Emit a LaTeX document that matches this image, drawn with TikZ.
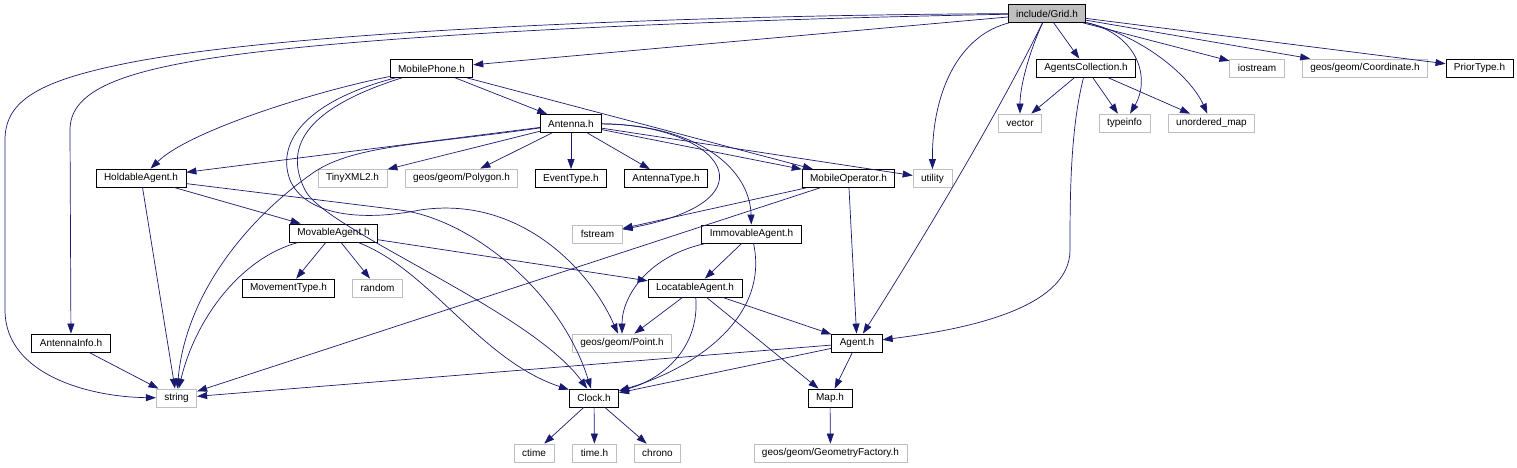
\documentclass[tikz,border=0pt]{standalone}
\usepackage{fontspec}
\setmainfont{Liberation Sans}
\usetikzlibrary{arrows.meta}
\definecolor{edgecol}{HTML}{191970}
\definecolor{sysgray}{HTML}{BFBFBF}
\tikzset{
  hdr/.style={draw=black, fill=white, rectangle, inner xsep=8pt, inner ysep=0pt, minimum height=18pt, line width=0.8pt},
  sys/.style={hdr, draw=sysgray},
  root/.style={hdr, fill=sysgray},
  dep/.style={draw=edgecol, line width=0.7pt, -{Triangle[length=10pt,width=7pt]}}
}
\begin{document}
\begin{tikzpicture}[x=1pt, y=-1pt, font=\fontsize{10}{12}\selectfont]
	\useasboundingbox (0,0) rectangle (1517,467);
	% Headers
	\node[root] (grid) at (1047,13.5) {include/Grid.h};
	\node[hdr] (mphone) at (431.5,68.5) {MobilePhone.h};
	\node[hdr] (acoll) at (1086,68) {AgentsCollection.h};
	\node[sys] (iostream) at (1257,68) {iostream};
	\node[sys] (coord) at (1365,68) {geos/geom/Coordinate.h};
	\node[hdr] (prior) at (1479.5,68) {PriorType.h};
	\node[hdr] (antenna) at (571,123.5) {Antenna.h};
	\node[sys] (vector) at (1020,123) {vector};
	\node[sys] (typeinfo) at (1124.5,123) {typeinfo};
	\node[sys] (umap) at (1211.5,123) {unordered\_map};
	\node[hdr] (holdable) at (141,178) {HoldableAgent.h};
	\node[sys] (tinyxml) at (352.5,178) {TinyXML2.h};
	\node[sys] (polygon) at (461.5,178) {geos/geom/Polygon.h};
	\node[hdr] (eventtype) at (571,178.5) {EventType.h};
	\node[hdr] (antennatype) at (666,178.5) {AntennaType.h};
	\node[hdr] (moperator) at (848.5,178.5) {MobileOperator.h};
	\node[sys] (utility) at (932.5,178.5) {utility};
	\node[hdr] (movable) at (333.5,233) {MovableAgent.h};
	\node[sys] (fstream) at (597.5,234) {fstream};
	\node[hdr] (immovable) at (751.5,234) {ImmovableAgent.h};
	\node[hdr] (movement) at (288.5,288) {MovementType.h};
	\node[sys] (random) at (377.5,288) {random};
	\node[hdr] (locatable) at (695,288) {LocatableAgent.h};
	\node[hdr] (antinfo) at (71,343) {AntennaInfo.h};
	\node[sys] (point) at (622,343) {geos/geom/Point.h};
	\node[hdr] (agent) at (857,343) {Agent.h};
	\node[sys] (string) at (176.5,398) {string};
	\node[hdr] (clock) at (594,398) {Clock.h};
	\node[hdr] (map) at (830,398) {Map.h};
	\node[sys] (ctime) at (534,453) {ctime};
	\node[sys] (timeh) at (594.5,453) {time.h};
	\node[sys] (chrono) at (657.5,453) {chrono};
	\node[sys] (gfactory) at (830.5,453) {geos/geom/GeometryFactory.h};
	% Grid.h
	\draw[dep] (grid) .. controls (700,15) and (300,30) .. (133,62) .. controls (40,80) and (5,100) .. (5,140) -- (5,310) .. controls (5,375) and (90,397) .. (string);
	\draw[dep] (grid) .. controls (700,20) and (350,35) .. (200,60) .. controls (110,75) and (70,95) .. (70,130) -- (antinfo);
	\draw[dep] (grid) -- (mphone);
	\draw[dep] (grid) .. controls (960,35) and (932,90) .. (utility);
	\draw[dep] (grid) .. controls (1030,50) and (1020,85) .. (vector);
	\draw[dep] (grid) .. controls (1005,100) and (935,220) .. (agent);
	\draw[dep] (grid) -- (acoll);
	\draw[dep] (grid) .. controls (1140,35) and (1150,80) .. (typeinfo);
	\draw[dep] (grid) .. controls (1140,35) and (1190,75) .. (umap);
	\draw[dep] (grid) -- (iostream);
	\draw[dep] (grid) -- (coord);
	\draw[dep] (grid) -- (prior);
	% AgentsCollection.h
	\draw[dep] (acoll) -- (vector);
	\draw[dep] (acoll) -- (typeinfo);
	\draw[dep] (acoll) -- (umap);
	\draw[dep] (acoll) .. controls (1070,130) and (1070,200) .. (1070,250) .. controls (1070,310) and (960,330) .. (agent);
	% MobilePhone.h
	\draw[dep] (mphone) .. controls (320,90) and (190,130) .. (holdable);
	\draw[dep] (mphone) -- (antenna);
	\draw[dep] (mphone) -- (moperator);
	\draw[dep] (mphone) .. controls (300,110) and (285,150) .. (305,190) .. controls (325,230) and (530,310) .. (clock);
	\draw[dep] (mphone) .. controls (310,100) and (275,140) .. (290,180) .. controls (305,215) and (360,222) .. (420,210) .. controls (520,195) and (590,270) .. (point);
	% Antenna.h
	\draw[dep] (antenna) -- (holdable);
	\draw[dep] (antenna) .. controls (420,145) and (350,145) .. (310,175) .. controls (240,225) and (185,300) .. (string);
	\draw[dep] (antenna) -- (tinyxml);
	\draw[dep] (antenna) -- (polygon);
	\draw[dep] (antenna) -- (eventtype);
	\draw[dep] (antenna) -- (antennatype);
	\draw[dep] (antenna) -- (moperator);
	\draw[dep] (antenna) -- (utility);
	\draw[dep] (antenna) .. controls (720,125) and (780,200) .. (fstream);
	\draw[dep] (antenna) .. controls (700,125) and (750,170) .. (immovable);
	% HoldableAgent.h
	\draw[dep] (holdable) -- (movable);
	\draw[dep] (holdable) -- (string);
	\draw[dep] (holdable) -- (400,210) .. controls (470,219) and (560,290) .. (clock);
	% MovableAgent.h
	\draw[dep] (movable) .. controls (240,258) and (195,320) .. (string);
	\draw[dep] (movable) -- (movement);
	\draw[dep] (movable) -- (random);
	\draw[dep] (movable) .. controls (430,270) and (480,360) .. (clock);
	\draw[dep] (movable) -- (locatable);
	% MobileOperator.h
	\draw[dep] (moperator) -- (fstream);
	\draw[dep] (moperator) -- (string);
	\draw[dep] (moperator) -- (agent);
	% ImmovableAgent.h
	\draw[dep] (immovable) -- (locatable);
	\draw[dep] (immovable) .. controls (650,255) and (622,295) .. (point);
	\draw[dep] (immovable) .. controls (770,320) and (690,370) .. (clock);
	% LocatableAgent.h
	\draw[dep] (locatable) -- (point);
	\draw[dep] (locatable) .. controls (700,350) and (660,380) .. (clock);
	\draw[dep] (locatable) -- (agent);
	\draw[dep] (locatable) -- (map);
	% Agent.h
	\draw[dep] (agent) -- (string);
	\draw[dep] (agent) -- (clock);
	\draw[dep] (agent) -- (map);
	% leaves
	\draw[dep] (antinfo) -- (string);
	\draw[dep] (map) -- (gfactory);
	\draw[dep] (clock) -- (ctime);
	\draw[dep] (clock) -- (timeh);
	\draw[dep] (clock) -- (chrono);
\end{tikzpicture}
\end{document}
